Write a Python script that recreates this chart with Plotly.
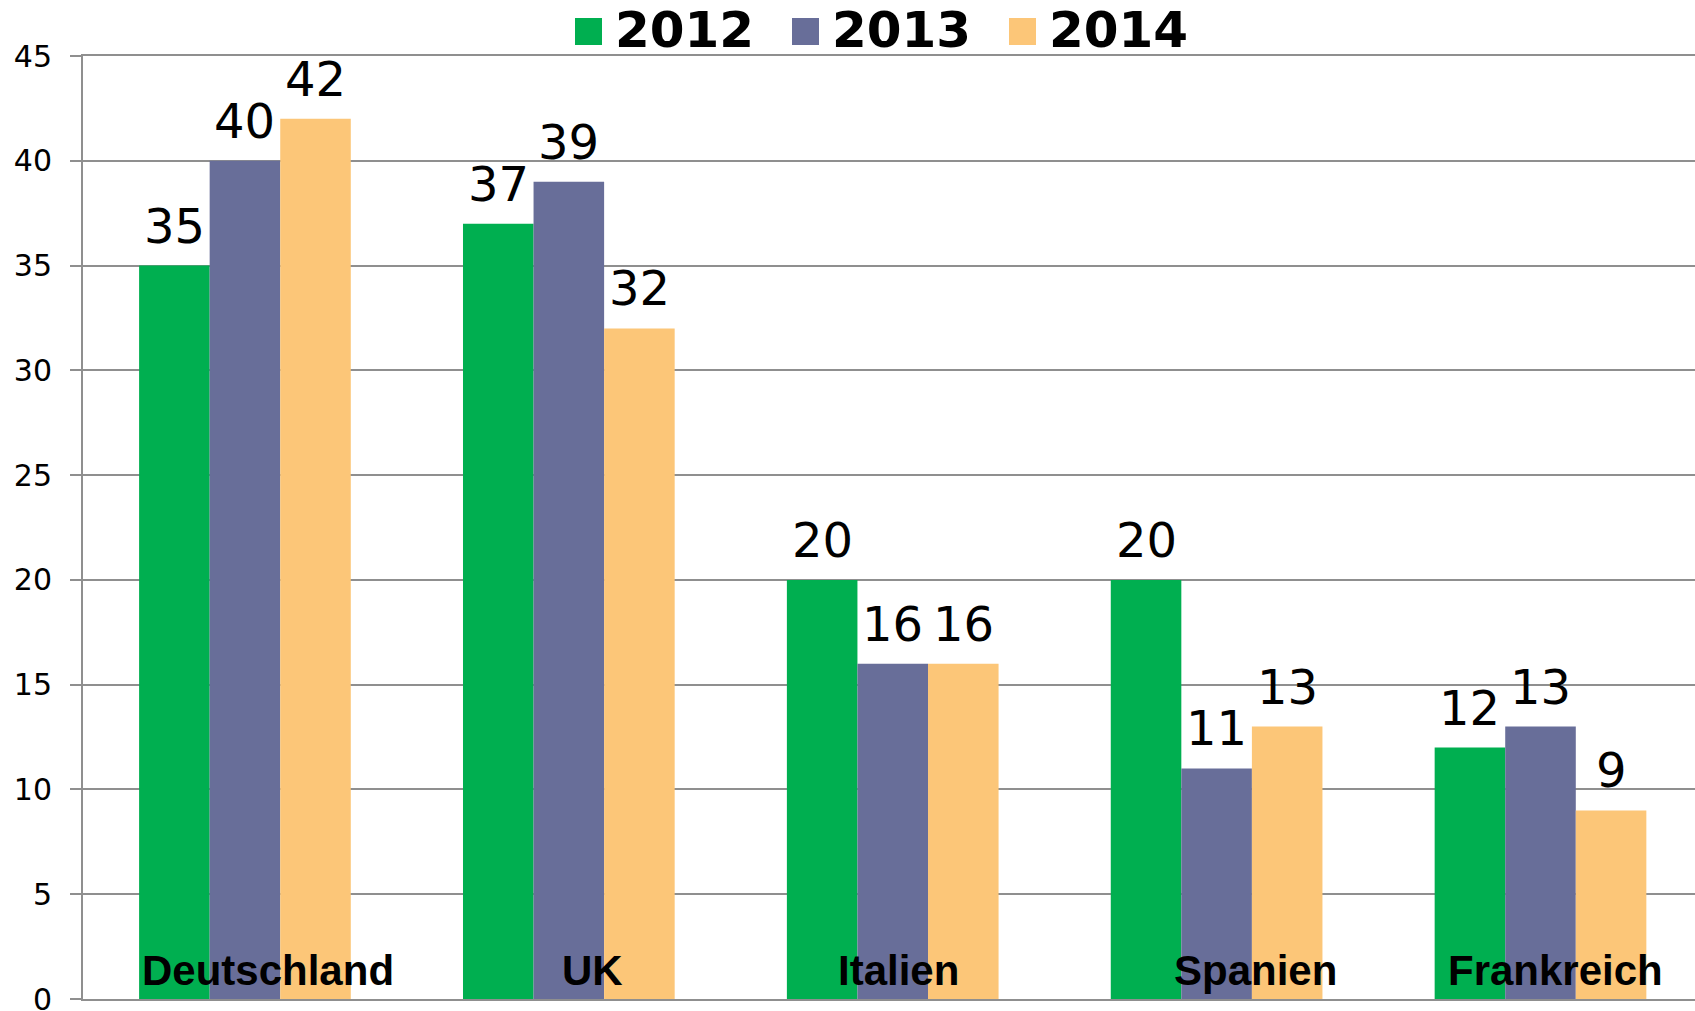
import plotly.graph_objects as go

# ---- data ----
categories = ["Deutschland", "UK", "Italien", "Spanien", "Frankreich"]
series_names = ["2012", "2013", "2014"]
values_2012 = [35, 37, 20, 20, 12]
values_2013 = [40, 39, 16, 11, 13]
values_2014 = [42, 32, 16, 13, 9]
y_ticks = [0, 5, 10, 15, 20, 25, 30, 35, 40, 45]

# ---- style ----
colors = ["#00AF50", "#686E99", "#FCC678"]
W, H = 1695, 1011
ML, MR, MT, MB = 83, 0, 56, 12
PW, PH = W - ML - MR, H - MT - MB
X_RANGE = [-0.5, 4.477]
BARGAP = 0.3464
VALUE_FONT = "DejaVu Sans, Verdana, sans-serif"
LABEL_FONT = "Liberation Sans, Arial, sans-serif"
label_shift = [23, 24, 6, 39, 15]  # pixel shift of category labels

cat_px = PW / (X_RANGE[1] - X_RANGE[0])
bar_px = cat_px * (1 - BARGAP) / len(series_names)


def px_x(px):
    return (px - ML) / PW


def px_y(py):
    return (H - MB - py) / PH


fig = go.Figure()
annotations = []
all_values = [values_2012, values_2013, values_2014]
for i, (name, vals, col) in enumerate(zip(series_names, all_values, colors)):
    fig.add_trace(go.Bar(
        x=categories, y=vals, name=name,
        marker=dict(color=col, line=dict(width=0)),
        showlegend=False,
    ))
    offset = (i - (len(series_names) - 1) / 2) * bar_px
    for cat, v in zip(categories, vals):
        annotations.append(dict(
            x=cat, y=v, xref="x", yref="y", xanchor="center", yanchor="bottom",
            xshift=offset, yshift=10, text=str(v), showarrow=False,
            font=dict(family=VALUE_FONT, size=48, color="black"),
        ))

# category labels inside the plot at the bottom
for cat, sh in zip(categories, label_shift):
    annotations.append(dict(
        x=cat, y=0, xref="x", yref="y", xanchor="center", yanchor="middle",
        xshift=sh, yshift=29, text=cat, showarrow=False,
        font=dict(family=LABEL_FONT, size=42, color="black", weight="bold"),
    ))

# manual legend
shapes = []
leg_x0, leg_step, sq = 575, 217, 27
for i, (name, col) in enumerate(zip(series_names, colors)):
    x0 = leg_x0 + i * leg_step
    shapes.append(dict(type="rect", xref="paper", yref="paper",
                       x0=px_x(x0), x1=px_x(x0 + sq), y0=px_y(45), y1=px_y(18),
                       fillcolor=col, line=dict(width=0), layer="above"))
    annotations.append(dict(
        x=px_x(x0 + 38), y=px_y(30), xref="paper", yref="paper",
        xanchor="left", yanchor="middle", text=name, showarrow=False,
        font=dict(family=VALUE_FONT, size=50, color="black", weight="bold"),
    ))

fig.update_layout(
    width=W, height=H,
    margin=dict(l=ML, r=MR, t=MT, b=MB, pad=0, autoexpand=False),
    paper_bgcolor="white", plot_bgcolor="white",
    barmode="group", bargap=BARGAP, bargroupgap=0,
    showlegend=False,
    annotations=annotations, shapes=shapes,
    xaxis=dict(
        type="category", range=X_RANGE, showticklabels=False,
        showgrid=False, zeroline=False, showline=True, mirror=True,
        linecolor="#8F8F8F", linewidth=2, ticks="",
        fixedrange=True, automargin=False,
    ),
    yaxis=dict(
        range=[0, 45], tickvals=y_ticks, ticktext=[str(t) for t in y_ticks],
        showgrid=True, gridcolor="#8F8F8F", gridwidth=2,
        zeroline=False, showline=True, linecolor="#8F8F8F", linewidth=2,
        ticks="outside", ticklen=11, tickcolor="#8F8F8F", tickwidth=2,
        tickfont=dict(family=VALUE_FONT, size=30, color="black"),
        ticklabelstandoff=12, ticklabeloverflow="allow", automargin=False,
    ),
)

fig.write_html("out.html", config={"displayModeBar": False},
               post_script="document.body.style.margin='0';")
